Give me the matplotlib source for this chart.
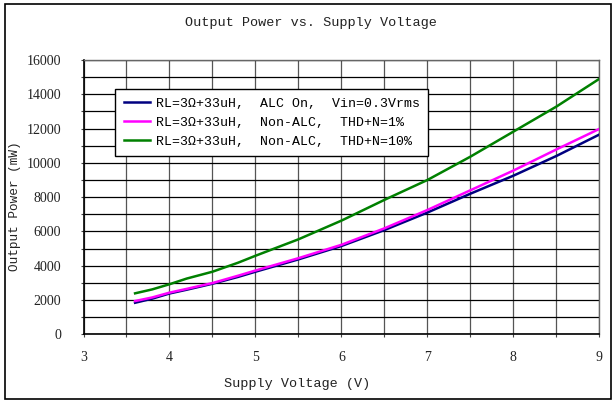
import matplotlib
matplotlib.use("Agg")
import matplotlib.pyplot as plt
from matplotlib.patches import Rectangle
from matplotlib.ticker import MultipleLocator

voltage = [3.6, 3.8, 4.0, 4.2, 4.5, 4.8, 5.0, 5.5, 6.0, 6.5, 7.0, 7.5, 8.0, 8.5, 9.0]
alc_on = [1840, 2080, 2380, 2600, 2950, 3350, 3650, 4370, 5150, 6080, 7100, 8200, 9250, 10400, 11650]
thd1 = [1940, 2150, 2430, 2650, 2990, 3420, 3720, 4440, 5220, 6180, 7250, 8400, 9550, 10780, 11980]
thd10 = [2390, 2620, 2920, 3250, 3650, 4180, 4580, 5540, 6630, 7840, 9000, 10360, 11820, 13280, 14900]

labels = ["RL=3Ω+33uH,  ALC On,  Vin=0.3Vrms",
          "RL=3Ω+33uH,  Non-ALC,  THD+N=1%",
          "RL=3Ω+33uH,  Non-ALC,  THD+N=10%"]
colors = ["#000080", "#FF00FF", "#008000"]
title = "Output Power vs. Supply Voltage"
xlabel = "Supply Voltage (V)"
ylabel = "Output Power (mW)"
xticks = [3, 4, 5, 6, 7, 8, 9]
yticks = [0, 2000, 4000, 6000, 8000, 10000, 12000, 14000, 16000]

mono = "Liberation Mono"
serif = "Liberation Serif"
W, H = 614, 403

fig = plt.figure(figsize=(6.14, 4.03), dpi=100)
fig.patches.append(Rectangle((5/W, 4/H), 606/W, 395/H, transform=fig.transFigure,
                             fill=False, edgecolor="black", linewidth=1.2))
ax = fig.add_axes([83.5/W, 1-334.3/H, 515.8/W, 274.3/H])

for y, lab, c in zip([alc_on, thd1, thd10], labels, colors):
    ax.plot(voltage, y, color=c, linewidth=1.8, label=lab, zorder=3)

ax.set_xlim(3, 9)
ax.set_ylim(0, 16000)
ax.set_xticks(xticks)
ax.set_yticks(yticks)
ax.xaxis.set_minor_locator(MultipleLocator(0.5))
ax.yaxis.set_minor_locator(MultipleLocator(1000))
ax.grid(True, which="both", axis="y", color="black", linewidth=0.9)
ax.grid(True, which="both", axis="x", color="#555555", linewidth=0.9)
ax.tick_params(axis="both", which="both", direction="out", length=2, width=0.8, color="#444444")
ax.tick_params(axis="x", which="major", labelsize=10, pad=10)
ax.tick_params(axis="y", which="major", labelsize=10, pad=14)
for lab in ax.get_xticklabels() + ax.get_yticklabels():
    lab.set_fontfamily(serif)
    lab.set_color("#222222")
for s in ["top", "right"]:
    ax.spines[s].set_color("#666666")
    ax.spines[s].set_linewidth(1.0)
for s in ["left", "bottom"]:
    ax.spines[s].set_color("black")
    ax.spines[s].set_linewidth(1.2)
ax.set_axisbelow(True)

fig.text(311/W, 1-23/H, title, ha="center", va="center", fontsize=9.7, family=mono, color="#222222")
fig.text(297.5/W, 1-384/H, xlabel, ha="center", va="center", fontsize=9.7, family=mono, color="#222222")
fig.text(15/W, 1-206.5/H, ylabel, ha="center", va="center", rotation=90, fontsize=9.2,
         family=mono, color="#222222")

leg = ax.legend(loc="upper left", bbox_to_anchor=(0.061, 0.894), borderaxespad=0,
                fancybox=False, framealpha=1, edgecolor="black",
                prop={"family": mono, "size": 9.5}, handlelength=2.0,
                labelspacing=0.5, borderpad=0.65, handletextpad=0.45)
leg.get_frame().set_linewidth(1.0)

fig.savefig("out.png", dpi=100)
